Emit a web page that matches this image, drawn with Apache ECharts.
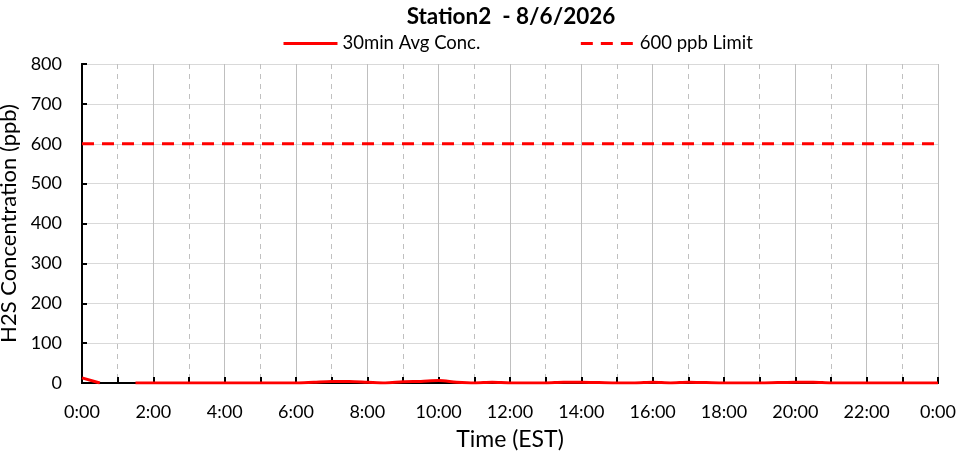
<!DOCTYPE html>
<html>
<head>
<meta charset="utf-8">
<script src="https://cdn.jsdelivr.net/npm/echarts@6/dist/echarts.min.js"></script>
<style>html,body{margin:0;padding:0;background:#fff}#c{width:957px;height:453px}</style>
</head>
<body>
<div id="c"></div>
<script>
const titleText = 'Station2  - 8/6/2026';
const seriesNames = ['30min Avg Conc.', '600 ppb Limit'];
const times = ['0:00','0:30','1:00','1:30','2:00','2:30','3:00','3:30','4:00','4:30','5:00','5:30',
  '6:00','6:30','7:00','7:30','8:00','8:30','9:00','9:30','10:00','10:30','11:00','11:30',
  '12:00','12:30','13:00','13:30','14:00','14:30','15:00','15:30','16:00','16:30','17:00','17:30',
  '18:00','18:30','19:00','19:30','20:00','20:30','21:00','21:30','22:00','22:30','23:00','23:30','24:00'];
const concValues = [13,0,null,0,0,0,0,0,0,0,0,0,
  0,2,4,4,2,0,3,4,6,2,0,2,
  0,0,0,2,2,1,0,0,2,0,2,1,
  0,0,0,1,2,2,0,0,0,0,0,0,0];
const limitTimes = ['0:00','24:00'];
const limitValues = [600,600];
const yTicks = {min:0, max:800, interval:100};
const xTicks = {min:0, max:1440, interval:120};

function toMin(t){const p=t.split(':');return (+p[0])*60+(+p[1]);}
const concData = times.map((t,i)=>[toMin(t), concValues[i]]);
const limitData = limitTimes.map((t,i)=>[toMin(t), limitValues[i]]);
const FONT = 'Lato, "Open Sans", sans-serif';

const chart = echarts.init(document.getElementById('c'));
chart.setOption({
  animation:false,
  title:{text:titleText,left:506,textAlign:'center',top:0,
    textStyle:{fontFamily:FONT,fontSize:22.5,fontWeight:'bold',color:'#000'}},
  legend:{top:29,left:277,itemWidth:54,itemHeight:10,itemGap:99,
    itemStyle:{opacity:0},
    lineStyle:{width:3},
    textStyle:{fontFamily:FONT,fontSize:18.5,color:'#000'},
    data:seriesNames},
  grid:{left:82,right:19,top:64,bottom:70,containLabel:false,outerBoundsMode:'none'},
  xAxis:[{type:'value',min:xTicks.min,max:xTicks.max,interval:xTicks.interval,
    name:'Time (EST)',nameLocation:'middle',nameGap:45,
    nameTextStyle:{fontFamily:FONT,fontSize:23,color:'#000'},
    axisLine:{show:true,onZero:false,lineStyle:{color:'#000',width:2}},
    axisTick:{show:true,inside:true,length:6,lineStyle:{color:'#000',width:2}},
    minorTick:{show:true,splitNumber:2,length:6,lineStyle:{color:'#000',width:2}},
    axisLabel:{fontFamily:FONT,fontSize:18,color:'#000',margin:20,
      formatter:v=>Math.floor((v/60)%24)+':00'},
    splitLine:{show:true,lineStyle:{color:'#bfbfbf',width:1}},
    minorSplitLine:{show:true,lineStyle:{color:'#c0c0c0',width:1,type:[5,5]}}},
    {type:'value',position:'top',min:xTicks.min,max:xTicks.max,interval:xTicks.interval,
    axisLine:{show:true,lineStyle:{color:'#000',width:2}},axisTick:{show:false},
    axisLabel:{show:false},splitLine:{show:false}}],
  yAxis:[{type:'value',min:yTicks.min,max:yTicks.max,interval:yTicks.interval,
    name:'H2S Concentration (ppb)',nameLocation:'middle',nameGap:56,
    nameTextStyle:{fontFamily:FONT,fontSize:22,color:'#000'},
    axisLine:{show:true,lineStyle:{color:'#000',width:2}},
    axisTick:{show:true,inside:true,length:5,lineStyle:{color:'#000',width:2}},
    axisLabel:{fontFamily:FONT,fontSize:18,color:'#000',margin:20},
    splitLine:{show:true,lineStyle:{color:'#d9d9d9',width:1}}},
    {type:'value',position:'right',min:yTicks.min,max:yTicks.max,interval:yTicks.interval,
    axisLine:{show:true,lineStyle:{color:'#000',width:2}},axisTick:{show:false},
    axisLabel:{show:false},splitLine:{show:false}}],
  series:[
    {name:seriesNames[0],type:'line',data:concData,symbol:'none',smooth:0.3,
     connectNulls:false,lineStyle:{color:'#ff0000',width:3},itemStyle:{color:'#ff0000'},z:5},
    {name:seriesNames[1],type:'line',data:limitData,symbol:'none',
     lineStyle:{color:'#ff0000',width:3,type:[12,8]},itemStyle:{color:'#ff0000'},z:4}
  ]
});
</script>
</body>
</html>
